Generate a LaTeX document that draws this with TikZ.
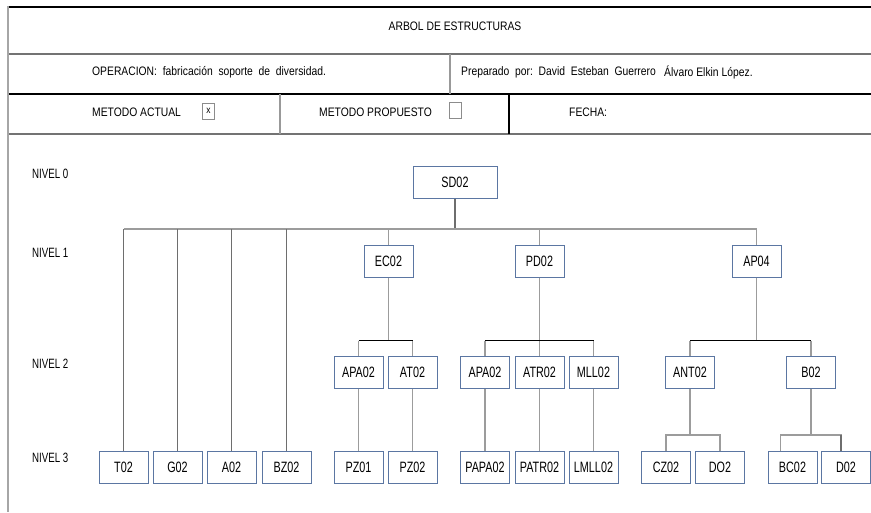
\documentclass[tikz,border=0pt]{standalone}
\usepackage{fontspec}
\newfontfamily\narrowfont{Liberation Sans}[FakeStretch=0.84]
\newfontfamily\condfont{Liberation Sans}[FakeStretch=0.72]
\usetikzlibrary{positioning,calc}
\definecolor{bordeazul}{HTML}{5B76A2}
\definecolor{grislinea}{HTML}{9C9C9C}
\definecolor{grisosc}{HTML}{6E6E6E}
\tikzset{
  pieza/.style={draw=bordeazul,fill=white,line width=1pt,minimum width=49pt,minimum height=32pt,
                inner sep=1pt,font=\condfont\fontsize{15}{17}\selectfont},
  rama/.style={grislinea,line width=1.3pt},
  barra/.style={black,line width=1.3pt},
  nivel/.style={font=\condfont\fontsize{13.5}{15}\selectfont,anchor=west,inner sep=0pt},
  cab/.style={font=\narrowfont\fontsize{12.3}{14}\selectfont},
  casilla/.style={draw=black!45,line width=1pt,minimum width=12pt,minimum height=16pt,inner sep=0pt,
                  font=\narrowfont\fontsize{10}{10}\selectfont},
}
\begin{document}
\begin{tikzpicture}[x=1pt,y=-1pt]
\useasboundingbox (0,0) rectangle (871,512);
% encabezado
\draw[black,line width=2.2pt] (8,7) -- (871,7);
\draw[black!55,line width=2pt] (8,54) -- (871,54);
\draw[black,line width=2pt] (8,94) -- (871,94);
\draw[black!55,line width=2pt] (8,134) -- (871,134);
\draw[black!35,line width=2pt] (8,6) -- (8,512);
\draw[black!40,line width=1.5pt] (450,54) -- (450,94);
\draw[black!40,line width=1.5pt] (280,94) -- (280,134);
\draw[black,line width=1.2pt] (509,94) -- (509,134);
\node[cab] (titulo) at (455,26) {ARBOL DE ESTRUCTURAS};
\node[cab,anchor=west,inner sep=0pt] (operacion) at (92,72) {OPERACION:\ \ fabricación\ \ soporte\ \ de\ \ diversidad.};
\node[cab,anchor=west,inner sep=0pt] (preparado) at (461,72) {Preparado\ \ por:\ \ David\ \ Esteban\ \ Guerrero};
\node[cab,anchor=west,inner sep=0pt] (autor) at (664,72) {Álvaro Elkin López.};
\node[cab,anchor=west,inner sep=0pt] (actual) at (92,112) {METODO ACTUAL};
\node[casilla] (chkactual) at (208.5,111) {x};
\node[cab,anchor=west,inner sep=0pt] (propuesto) at (319,112) {METODO PROPUESTO};
\node[casilla] (chkpropuesto) at (455,110) {};
\node[cab,anchor=west,inner sep=0pt] (fecha) at (569,112) {FECHA:};
% niveles
\foreach \y/\n in {174/0,253/1,364/2,458/3}
  \node[nivel] (nivel\n) at (32,\y) {NIVEL \n};
% piezas
\node[pieza,minimum width=84pt] (sd02) at (455,182) {SD02};
\foreach \nom/\x/\t in {ec02/388.5/EC02,pd02/539.5/PD02,ap04/756.5/AP04}
  \node[pieza] (\nom) at (\x,261) {\t};
\foreach \nom/\x/\t in {apaA/358.5/APA02,at02/412.5/AT02,apaB/485/APA02,atr02/539.5/ATR02,
                        mll02/593.5/MLL02,ant02/690/ANT02,b02/811/B02}
  \node[pieza] (\nom) at (\x,372) {\t};
\foreach \nom/\x/\t in {t02/123.5/T02,g02/177.5/G02,a02/231.5/A02,bz02/286.5/BZ02,pz01/358.5/PZ01,
                        pz02/412.5/PZ02,papa02/485/PAPA02,patr02/539.5/PATR02,lmll02/593.5/LMLL02,
                        cz02/666/CZ02,do2/720/DO2,bc02/792.5/BC02,d02/846/D02}
  \node[pieza] (\nom) at (\x,467) {\t};
% nivel 0 a nivel 1
\coordinate (busL) at (123.5,229);
\coordinate (busR) at (756.5,229);
\draw[grisosc,line width=1.3pt] (sd02.south) -- (sd02.south |- busL);
\draw[rama] (busL) -- (busR);
\foreach \nom in {ec02,pd02,ap04}
  \draw[rama] (\nom.north) -- (\nom.north |- busL);
\foreach \nom in {t02,g02,a02,bz02}
  \draw[grisosc,line width=1.2pt] (\nom.north) -- (\nom.north |- busL);
% nivel 1 a nivel 2
\foreach \pad/\izq/\der in {ec02/apaA/at02,pd02/apaB/mll02,ap04/ant02/b02}{
  \coordinate (bus\pad) at ($(\pad.south)+(0,63)$);
  \draw[rama] (\pad.south) -- (bus\pad);
  \draw[rama] (\izq.north) -- (\izq.north |- bus\pad);
  \draw[rama] (\der.north) -- (\der.north |- bus\pad);
  \draw[barra] (\izq.north |- bus\pad) -- (\der.north |- bus\pad);}
\draw[rama] (atr02.north) -- (atr02.north |- buspd02);
% nivel 2 a nivel 3
\foreach \pad/\hijo in {apaA/pz01,at02/pz02,apaB/papa02,atr02/patr02,mll02/lmll02}
  \draw[rama] (\pad.south) -- (\hijo.north);
\coordinate (busant) at (690,435);
\coordinate (busb) at (811,435);
\draw[rama] (ant02.south) -- (busant);
\draw[rama] (cz02.north) |- (busant) -| (do2.north);
\draw[rama] (b02.south) -- (busb);
\draw[rama] ([xshift=-12pt]bc02.north) |- (busb) -| ([xshift=-5pt]d02.north);
\draw[grisosc,line width=1.3pt] ([xshift=-5pt]d02.north) -- ++(0,-16);
\end{tikzpicture}
\end{document}
